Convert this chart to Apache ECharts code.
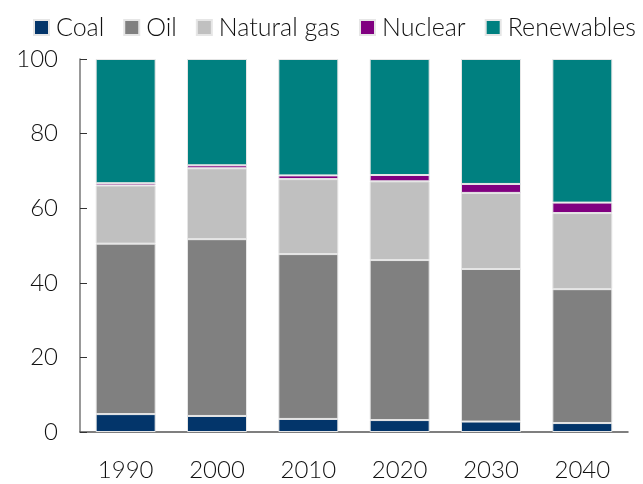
<!DOCTYPE html>
<html>
<head>
<meta charset="utf-8">
<script src="https://cdn.jsdelivr.net/npm/echarts@6/dist/echarts.min.js"></script>
<style>
  html, body { margin: 0; padding: 0; background: #fff; }
  #chart { width: 643px; height: 484px; }
</style>
</head>
<body>
<div id="chart"></div>
<script>
// Energy mix share (%) by decade
const years = ['1990', '2000', '2010', '2020', '2030', '2040'];
const coal = [4.8, 4.3, 3.5, 3.2, 2.8, 2.4];
const oil = [45.7, 47.4, 44.2, 42.9, 40.9, 35.9];
const naturalGas = [15.6, 19.0, 20.1, 21.1, 20.4, 20.4];
const nuclear = [0.6, 0.8, 1.0, 1.7, 2.4, 2.8];
const renewables = [33.3, 28.5, 31.2, 31.1, 33.5, 38.5];
const yTicks = [0, 20, 40, 60, 80, 100];

const FONT = 'Lato, "Open Sans", sans-serif';

const seriesDefs = [
  { name: 'Coal', data: coal, color: '#03356a' },
  { name: 'Oil', data: oil, color: '#808080' },
  { name: 'Natural gas', data: naturalGas, color: '#c0c0c0' },
  { name: 'Nuclear', data: nuclear, color: '#800080' },
  { name: 'Renewables', data: renewables, color: '#008080' }
];

const chart = echarts.init(document.getElementById('chart'), null, { renderer: 'canvas' });
chart.setOption({
  animation: false,
  legend: {
    top: 10,
    left: 28,
    width: 640,
    padding: [5, 0, 5, 5],
    itemWidth: 15,
    itemHeight: 15,
    itemGap: 19,
    icon: 'rect',
    textStyle: { fontFamily: FONT, fontWeight: 300, fontSize: 25, color: '#111', padding: [0, 0, 0, 2] },
    data: seriesDefs.map(s => s.name)
  },
  grid: { left: 80, right: 15, top: 59, bottom: 52 },
  xAxis: {
    type: 'category',
    data: years,
    axisLine: { lineStyle: { color: '#555', width: 1.5 } },
    axisTick: { show: false },
    axisLabel: { fontFamily: FONT, fontWeight: 300, fontSize: 24, color: '#111', margin: 26 }
  },
  yAxis: {
    type: 'value',
    min: yTicks[0],
    max: yTicks[yTicks.length - 1],
    interval: 20,
    splitLine: { show: false },
    axisLine: { show: true, lineStyle: { color: '#777', width: 1.5 } },
    axisTick: { show: true, inside: true, length: 7, lineStyle: { color: '#333' } },
    axisLabel: { fontFamily: FONT, fontWeight: 300, fontSize: 24, color: '#111', margin: 22 }
  },
  series: seriesDefs.map(s => ({
    name: s.name,
    type: 'bar',
    stack: 'mix',
    barWidth: '65.7%',
    data: s.data,
    itemStyle: { color: s.color, borderColor: '#e6e6e6', borderWidth: 1 }
  }))
});
</script>
</body>
</html>
